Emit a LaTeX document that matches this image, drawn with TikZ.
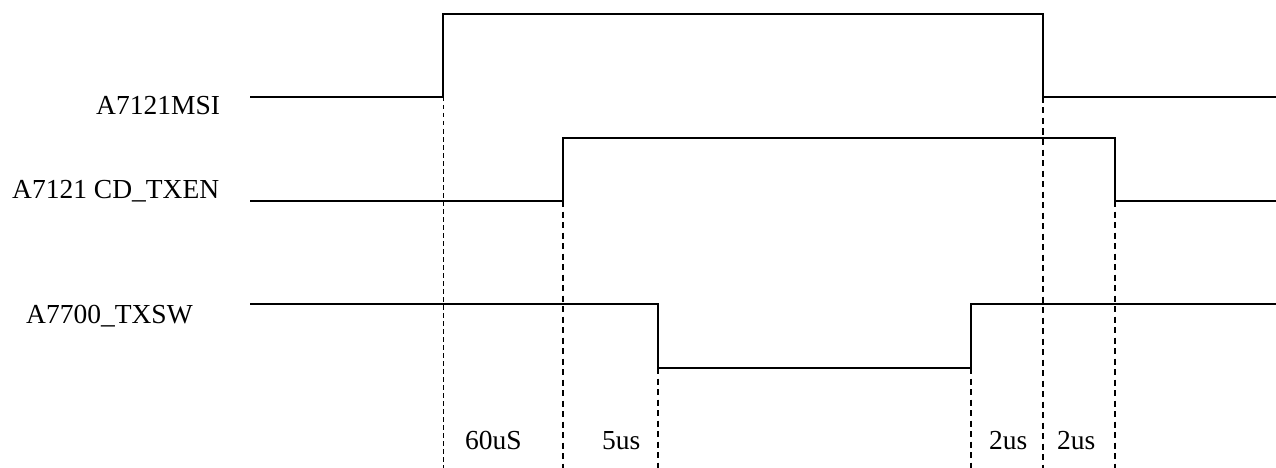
\documentclass[tikz,border=0pt]{standalone}
\usepackage{fontspec}
\setmainfont{Liberation Serif}
\begin{document}
\begin{tikzpicture}[x=1pt,y=-1pt,
  sig/.style={line width=1.8pt, line join=miter},
  guide/.style={line width=1.4pt, dash pattern=on 6pt off 4.5pt},
  lbl/.style={font=\fontsize{27.5}{30}\selectfont, inner sep=0pt, anchor=base west},
  tlbl/.style={font=\fontsize{27.5}{30}\selectfont, inner sep=0pt, anchor=base west}]
\useasboundingbox (0,0) rectangle (1276,468);
% signal names
\node[lbl] (nmsi) at (96,115) {A7121MSI};
\node[lbl] (ncd) at (12,198) {A7121 CD\_TXEN};
\node[lbl] (nsw) at (26,323) {A7700\_TXSW};
% transition coordinates
\coordinate (m0) at (250,97);
\coordinate (m1) at (443,97);
\coordinate (m2) at (443,14);
\coordinate (m3) at (1043,14);
\coordinate (m4) at (1043,97);
\coordinate (m5) at (1276,97);
\coordinate (c0) at (250,201);
\coordinate (c1) at (563,201);
\coordinate (c2) at (563,138);
\coordinate (c3) at (1115,138);
\coordinate (c4) at (1115,201);
\coordinate (c5) at (1276,201);
\coordinate (s0) at (250,304);
\coordinate (s1) at (658,304);
\coordinate (s2) at (658,368);
\coordinate (s3) at (971,368);
\coordinate (s4) at (971,304);
\coordinate (s5) at (1276,304);
% bottoms
\coordinate (b1) at (443,468);
\coordinate (b2) at (563,468);
\coordinate (b3) at (658,468);
\coordinate (b4) at (971,468);
\coordinate (b5) at (1043,468);
\coordinate (b6) at (1115,468);
% signals
\draw[sig] (m0) -- (m1) -- (m2) -- (m3) -- (m4) -- (m5);
\draw[sig] (c0) -- (c1) -- (c2) -- (c3) -- (c4) -- (c5);
\draw[sig] (s0) -- (s1) -- (s2) -- (s3) -- (s4) -- (s5);
% guides
\draw[guide, line width=1pt, dash pattern=on 4.5pt off 3.5pt] (m1) -- (b1);
\draw[guide] (c1) -- (b2);
\draw[guide] (s2) -- (b3);
\draw[guide] (s3) -- (b4);
\draw[guide] (m4) -- (b5);
\draw[guide] (c4) -- (b6);
% timing labels
\node[tlbl] (t1) at (465,449) {60uS};
\node[tlbl] (t2) at (602,449) {5us};
\node[tlbl] (t3) at (989,449) {2us};
\node[tlbl] (t4) at (1057,449) {2us};
\end{tikzpicture}
\end{document}
